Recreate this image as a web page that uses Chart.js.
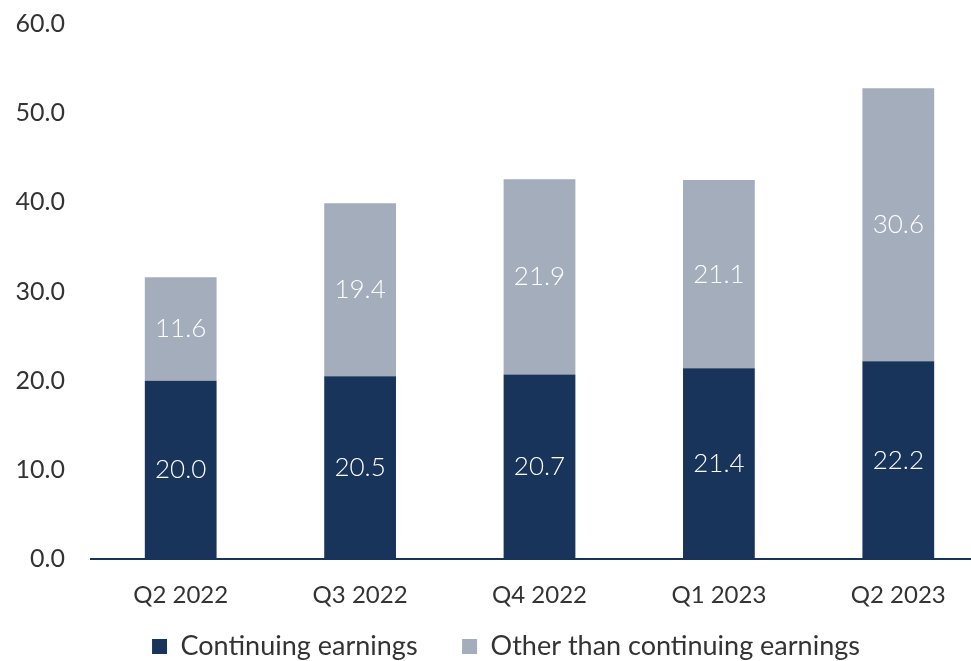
<!DOCTYPE html>
<html>
<head>
<meta charset="utf-8">
<script src="https://cdn.jsdelivr.net/npm/chart.js@4.4.0/dist/chart.umd.min.js"></script>
<style>
  html, body { margin: 0; padding: 0; background: #fff; overflow: hidden; }
  #wrap { width: 988px; height: 673px; position: relative; }
</style>
</head>
<body>
<div id="wrap"><canvas id="chart"></canvas></div>
<script>
// Données du graphique
const categories = ['Q2 2022', 'Q3 2022', 'Q4 2022', 'Q1 2023', 'Q2 2023'];
const seriesNames = ['Continuing earnings', 'Other than continuing earnings'];
const continuingEarnings = [20.0, 20.5, 20.7, 21.4, 22.2];
const otherEarnings = [11.6, 19.4, 21.9, 21.1, 30.6];
const yTicks = [0, 10, 20, 30, 40, 50, 60];

const NAVY = '#18345a';
const GREY = '#a3adbc';
const FONT = 'Lato, "Open Sans", sans-serif';

// Étiquettes blanches au centre de chaque segment
const segmentLabels = {
  id: 'segmentLabels',
  afterDatasetsDraw(chart) {
    const ctx = chart.ctx;
    ctx.save();
    ctx.fillStyle = '#ffffff';
    ctx.font = '300 26px ' + FONT;
    ctx.textAlign = 'center';
    ctx.textBaseline = 'middle';
    chart.data.datasets.forEach((ds, i) => {
      const meta = chart.getDatasetMeta(i);
      meta.data.forEach((bar, j) => {
        const p = bar.getProps(['x', 'y', 'base'], true);
        ctx.fillText(ds.data[j].toFixed(1), p.x, (p.y + p.base) / 2);
      });
    });
    ctx.restore();
  }
};

// Légende centrée sous la zone de tracé plutôt que sous le canvas
const legendShift = {
  id: 'legendShift',
  afterLayout(chart) {
    if (chart.legend) {
      chart.legend.left += 12;
      chart.legend.right += 12;
      chart.legend.top -= 3;
      chart.legend.bottom -= 3;
    }
  }
};

new Chart(document.getElementById('chart'), {
  type: 'bar',
  data: {
    labels: categories,
    datasets: [
      { label: seriesNames[0], data: continuingEarnings, backgroundColor: NAVY, borderWidth: 0 },
      { label: seriesNames[1], data: otherEarnings, backgroundColor: GREY, borderWidth: 0 }
    ]
  },
  options: {
    responsive: true,
    maintainAspectRatio: false,
    animation: false,
    layout: { padding: { top: 0, right: 0, bottom: 0, left: 0 } },
    datasets: { bar: { categoryPercentage: 1, barPercentage: 0.4 } },
    scales: {
      x: {
        stacked: true,
        grid: { display: false, drawTicks: false },
        border: { display: true, color: NAVY, width: 2 },
        ticks: { color: '#333', font: { family: FONT, size: 24 }, padding: 22 }
      },
      y: {
        stacked: true,
        min: 0,
        max: 60,
        afterFit(scale) {
          scale.width = 91;
          scale.paddingTop = 24;
          scale.paddingBottom = 0;
        },
        afterBuildTicks(scale) { scale.ticks = yTicks.map(v => ({ value: v })); },
        grid: { display: false, drawTicks: false },
        border: { display: false },
        ticks: {
          color: '#333',
          font: { family: FONT, size: 25 },
          padding: 26,
          callback: v => Number(v).toFixed(1)
        }
      }
    },
    plugins: {
      tooltip: { enabled: false },
      legend: {
        position: 'bottom',
        labels: {
          color: '#333',
          font: { family: FONT, size: 27 },
          boxWidth: 15,
          boxHeight: 15,
          padding: 4,
          useBorderRadius: false,
          // espace entre les deux entrées de légende
          generateLabels(chart) {
            const items = Chart.defaults.plugins.legend.labels.generateLabels(chart);
            items.forEach(it => { it.lineWidth = 0; });
            items[0].text += '\u2003\u2003';
            return items;
          }
        }
      }
    }
  },
  plugins: [segmentLabels, legendShift]
});
</script>
</body>
</html>
